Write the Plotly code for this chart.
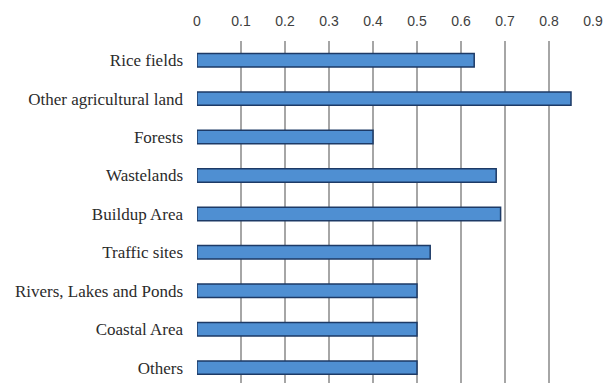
import plotly.graph_objects as go

categories = [
    "Rice fields",
    "Other agricultural land",
    "Forests",
    "Wastelands",
    "Buildup Area",
    "Traffic sites",
    "Rivers, Lakes and Ponds",
    "Coastal Area",
    "Others",
]
values = [0.63, 0.85, 0.40, 0.68, 0.69, 0.53, 0.50, 0.50, 0.50]
tick_vals = [0, 0.1, 0.2, 0.3, 0.4, 0.5, 0.6, 0.7, 0.8, 0.9]
tick_text = ["0", "0.1", "0.2", "0.3", "0.4", "0.5", "0.6", "0.7", "0.8", "0.9"]

fig = go.Figure(
    go.Bar(
        x=values,
        y=categories,
        orientation="h",
        width=0.35,
        marker=dict(color="#4f8fd2", line=dict(color="#1d3a66", width=1.5)),
    )
)

fig.update_layout(
    width=613,
    height=383,
    margin=dict(l=197, r=20, t=41, b=0),
    paper_bgcolor="white",
    plot_bgcolor="white",
    showlegend=False,
    xaxis=dict(
        side="top",
        range=[0, 0.9],
        tickvals=tick_vals,
        ticktext=tick_text,
        showgrid=True,
        gridcolor="#a6a6a6",
        gridwidth=1.5,
        zeroline=False,
        showline=False,
        ticks="",
        ticklabelstandoff=11,
        tickfont=dict(family="Liberation Sans", size=14, color="#404040"),
    ),
    yaxis=dict(
        type="category",
        categoryorder="array",
        categoryarray=categories,
        range=[8.4, -0.5],
        showgrid=False,
        zeroline=False,
        showline=False,
        ticks="",
        ticklabelstandoff=13,
        tickfont=dict(family="Liberation Serif", size=17, color="#2b2b2b"),
    ),
)

fig.write_html("out.html")
